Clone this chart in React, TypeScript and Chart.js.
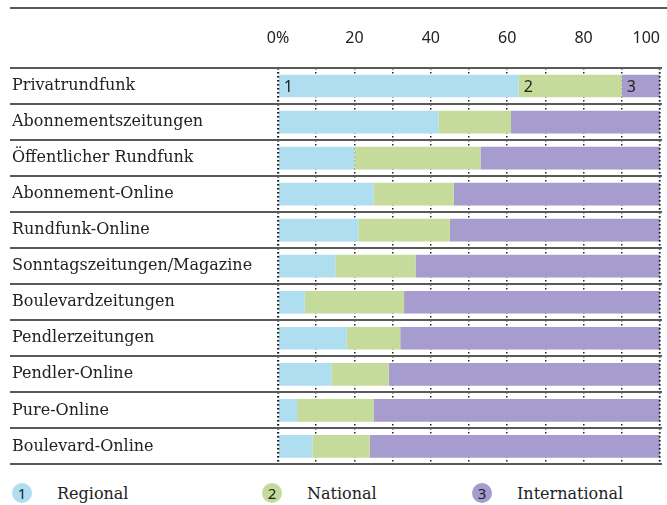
import React, { useEffect, useRef } from "react";
import { Chart, registerables } from "chart.js";

Chart.register(...registerables);

const categories = [
  "Privatrundfunk",
  "Abonnementszeitungen",
  "Öffentlicher Rundfunk",
  "Abonnement-Online",
  "Rundfunk-Online",
  "Sonntagszeitungen/Magazine",
  "Boulevardzeitungen",
  "Pendlerzeitungen",
  "Pendler-Online",
  "Pure-Online",
  "Boulevard-Online",
];
const regional = [63, 42, 20, 25, 21, 15, 7, 18, 14, 5, 9];
const national = [27, 19, 33, 21, 24, 21, 26, 14, 15, 20, 15];
const international = [10, 39, 47, 54, 55, 64, 67, 68, 71, 75, 76];
const seriesNames = ["Regional", "National", "International"];
const seriesColors = ["#AEDEF0", "#C4DB9B", "#A69CCE"];
const tickValues = [0, 20, 40, 60, 80, 100];
const tickLabels = ["0%", "20", "40", "60", "80", "100"];

const labelFont = "'DejaVu Serif', serif";
const numFont = "'Noto Sans', sans-serif";

const decoPlugin = {
  id: "deco",
  afterDatasetsDraw(chart: any) {
    const { ctx, chartArea, scales } = chart;
    const x = scales.x;
    const y = scales.y;
    ctx.save();
    // dotted edges on top of bars
    ctx.strokeStyle = "#222";
    ctx.lineWidth = 1.5;
    ctx.setLineDash([1.5, 2.5]);
    [0, 100].forEach((v) => {
      const px = Math.round(x.getPixelForValue(v)) + (v === 0 ? 0.5 : -0.5);
      ctx.beginPath();
      ctx.moveTo(px, chartArea.top);
      ctx.lineTo(px, chartArea.bottom);
      ctx.stroke();
    });
    ctx.setLineDash([]);
    // separators
    ctx.strokeStyle = "#5a5a5a";
    ctx.lineWidth = 2;
    for (let i = 0; i <= categories.length; i++) {
      const py = Math.round(y.getPixelForValue(i - 0.5));
      ctx.beginPath();
      ctx.moveTo(10, py);
      ctx.lineTo(662, py);
      ctx.stroke();
    }
    ctx.beginPath();
    ctx.moveTo(10, 8);
    ctx.lineTo(chart.width, 8);
    ctx.stroke();
    // tick labels
    ctx.fillStyle = "#222";
    ctx.font = `16px ${numFont}`;
    ctx.textBaseline = "middle";
    tickValues.forEach((v, i) => {
      const px = x.getPixelForValue(v);
      ctx.textAlign = i === tickValues.length - 1 ? "right" : "center";
      ctx.fillText(tickLabels[i], px, chartArea.top - 30);
    });
    // in-bar numbers on the first row
    ctx.font = `16px ${numFont}`;
    ctx.textAlign = "left";
    chart.data.datasets.forEach((ds: any, di: number) => {
      const meta = chart.getDatasetMeta(di);
      const bar = meta.data[0];
      if (!bar) return;
      const left = Math.min(bar.x, bar.base);
      ctx.fillText(String(di + 1), left + 5, bar.y + 1);
    });
    ctx.restore();
  },
};

export default function App() {
  const ref = useRef<HTMLCanvasElement>(null);
  useEffect(() => {
    if (!ref.current) return;
    const chart = new Chart(ref.current, {
      type: "bar",
      data: {
        labels: categories,
        datasets: [regional, national, international].map((d, i) => ({
          label: seriesNames[i],
          data: d,
          backgroundColor: seriesColors[i],
          borderWidth: 0,
          barPercentage: 0.63,
          categoryPercentage: 1,
        })),
      },
      options: {
        indexAxis: "y",
        animation: false,
        responsive: false,
        maintainAspectRatio: false,
        layout: { padding: { left: 12, right: 7, top: 0, bottom: 4 } },
        plugins: { legend: { display: false }, tooltip: { enabled: false } },
        scales: {
          x: {
            position: "top",
            stacked: true,
            min: 0,
            max: 100,
            afterFit: (s: any) => {
              s.height = 68;
            },
            ticks: { stepSize: 10, display: false },
            grid: {
              color: "#222",
              lineWidth: 1.5,
              drawTicks: false,
            },
            border: { display: false, dash: [1.5, 2.5] },
          },
          y: {
            stacked: true,
            afterFit: (s: any) => {
              s.width = 266;
            },
            grid: { display: false, drawTicks: false },
            border: { display: false },
            ticks: {
              crossAlign: "far",
              color: "#222",
              font: { family: labelFont, size: 16 },
            },
          },
        },
      },
      plugins: [decoPlugin],
    } as any);
    return () => chart.destroy();
  }, []);

  const legendX = [12, 262, 472];
  return (
    <div
      style={{
        position: "fixed",
        left: 0,
        top: 0,
        width: 667,
        height: 505,
        background: "#fff",
      }}
    >
      <canvas ref={ref} width={667} height={477} style={{ display: "block" }} />
      {seriesNames.map((n, i) => (
        <div
          key={n}
          style={{
            position: "absolute",
            left: legendX[i],
            top: 483,
            height: 20,
            display: "flex",
            alignItems: "center",
          }}
        >
          <div
            style={{
              width: 20,
              height: 20,
              borderRadius: 10,
              background: seriesColors[i],
              color: "#222",
              fontFamily: numFont,
              fontSize: 15,
              lineHeight: "20px",
              textAlign: "center",
            }}
          >
            {i + 1}
          </div>
          <span
            style={{
              marginLeft: 25,
              fontFamily: labelFont,
              fontSize: 16,
              color: "#222",
            }}
          >
            {n}
          </span>
        </div>
      ))}
    </div>
  );
}
